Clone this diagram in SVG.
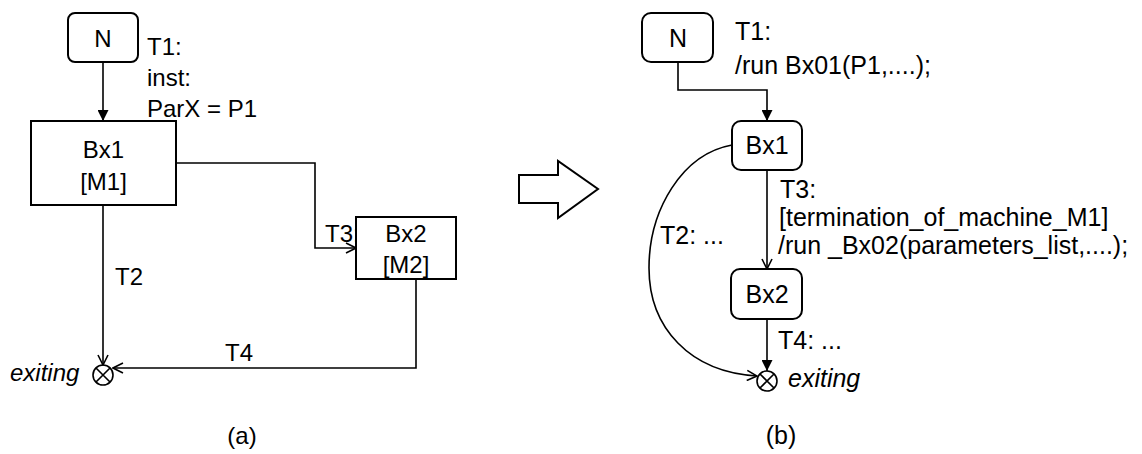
<svg xmlns="http://www.w3.org/2000/svg" width="1142" height="454" viewBox="0 0 1142 454">
<defs>
<style>
text{font-family:"Liberation Sans",Arial,sans-serif;fill:#000}
.l{font-size:24px}
.r{font-size:25px}
.c{text-anchor:middle}
.i{font-style:italic}
.box{fill:#fff;stroke:#000;stroke-width:2}
.ln{fill:none;stroke:#000;stroke-width:1.6}
</style>
<marker id="fa" viewBox="0 0 10 10" refX="10" refY="5" markerWidth="11" markerHeight="11" markerUnits="userSpaceOnUse" orient="auto"><path d="M0,0 L10,5 L0,10 z" fill="#000"/></marker>
<marker id="oa" viewBox="0 0 12 12" refX="11" refY="6" markerWidth="12" markerHeight="12" markerUnits="userSpaceOnUse" orient="auto"><path d="M1,1 L11,6 L1,11" fill="none" stroke="#000" stroke-width="1.6"/></marker>
</defs>
<rect width="1142" height="454" fill="#fff"/>

<g id="connectors">
<!-- left -->
<path class="ln" d="M103,62 V121" marker-end="url(#fa)"/>
<path class="ln" d="M103,205 V365" marker-end="url(#oa)"/>
<path class="ln" d="M176,163 H315 V248 H356" marker-end="url(#oa)"/>
<path class="ln" d="M416,279 V368 H113" marker-end="url(#oa)"/>
<!-- right -->
<path class="ln" d="M678,62 V90 H767 V121" marker-end="url(#fa)"/>
<path class="ln" d="M767,170 V269" marker-end="url(#oa)"/>
<path class="ln" d="M767,319 V371" marker-end="url(#fa)"/>
<path class="ln" d="M732,145 C682,154 649,210 649,268 C649,328 690,372 757,376" marker-end="url(#oa)"/>
</g>

<g id="labels-left">
<text class="l" x="147" y="55">T1:</text>
<text class="l" x="147" y="86">inst:</text>
<text class="l" x="147" y="117">ParX = P1</text>
<text class="l" x="325" y="242">T3:</text>
<text class="l" x="115" y="285">T2</text>
<text class="l" x="225" y="361">T4</text>
<text class="l i" x="10" y="381">exiting</text>
<text class="l c" x="242" y="444">(a)</text>
</g>

<g id="N-left"><rect class="box" x="68" y="13" width="70" height="49" rx="7"/><text class="l c" x="103" y="47">N</text></g>
<g id="Bx1-left"><rect class="box" x="31" y="121" width="145" height="84"/><text class="l c" x="103.5" y="158">Bx1</text><text class="l c" x="103.5" y="190">[M1]</text></g>
<g id="Bx2-left"><rect class="box" x="356" y="217" width="100" height="62"/><text class="l c" x="406" y="242">Bx2</text><text class="l c" x="406" y="273">[M2]</text></g>
<g id="exit-left"><circle class="ln" cx="103" cy="375" r="10"/><path class="ln" d="M96,368 L110,382 M110,368 L96,382"/></g>

<g id="transform-arrow"><path d="M519,175 H558 V161 L598,189 L558,218 V203 H519 Z" fill="#fff" stroke="#000" stroke-width="2"/></g>

<g id="N-right"><rect class="box" x="642" y="13" width="71" height="49" rx="9"/><text class="r c" x="678" y="47">N</text></g>
<g id="Bx1-right"><rect class="box" x="732" y="121" width="70" height="49" rx="9"/><text class="r c" x="767" y="154">Bx1</text></g>
<g id="Bx2-right"><rect class="box" x="731" y="269" width="71" height="50" rx="9"/><text class="r c" x="767" y="303">Bx2</text></g>
<g id="exit-right"><circle class="ln" cx="767" cy="381" r="10"/><path class="ln" d="M760,374 L774,388 M774,374 L760,388"/></g>

<g id="labels-right">
<text class="r" x="735" y="40">T1:</text>
<text class="r" x="735" y="74">/run Bx01(P1,....);</text>
<text class="r" x="780" y="198">T3:</text>
<text class="r" x="779" y="226">[termination_of_machine_M1]</text>
<text class="r" x="778" y="254">/run _Bx02(parameters_list,....);</text>
<text class="r" x="660" y="244">T2: ...</text>
<text class="r" x="778" y="349">T4: ...</text>
<text class="r i" x="788" y="387">exiting</text>
<text class="r c" x="781" y="444">(b)</text>
</g>
</svg>
